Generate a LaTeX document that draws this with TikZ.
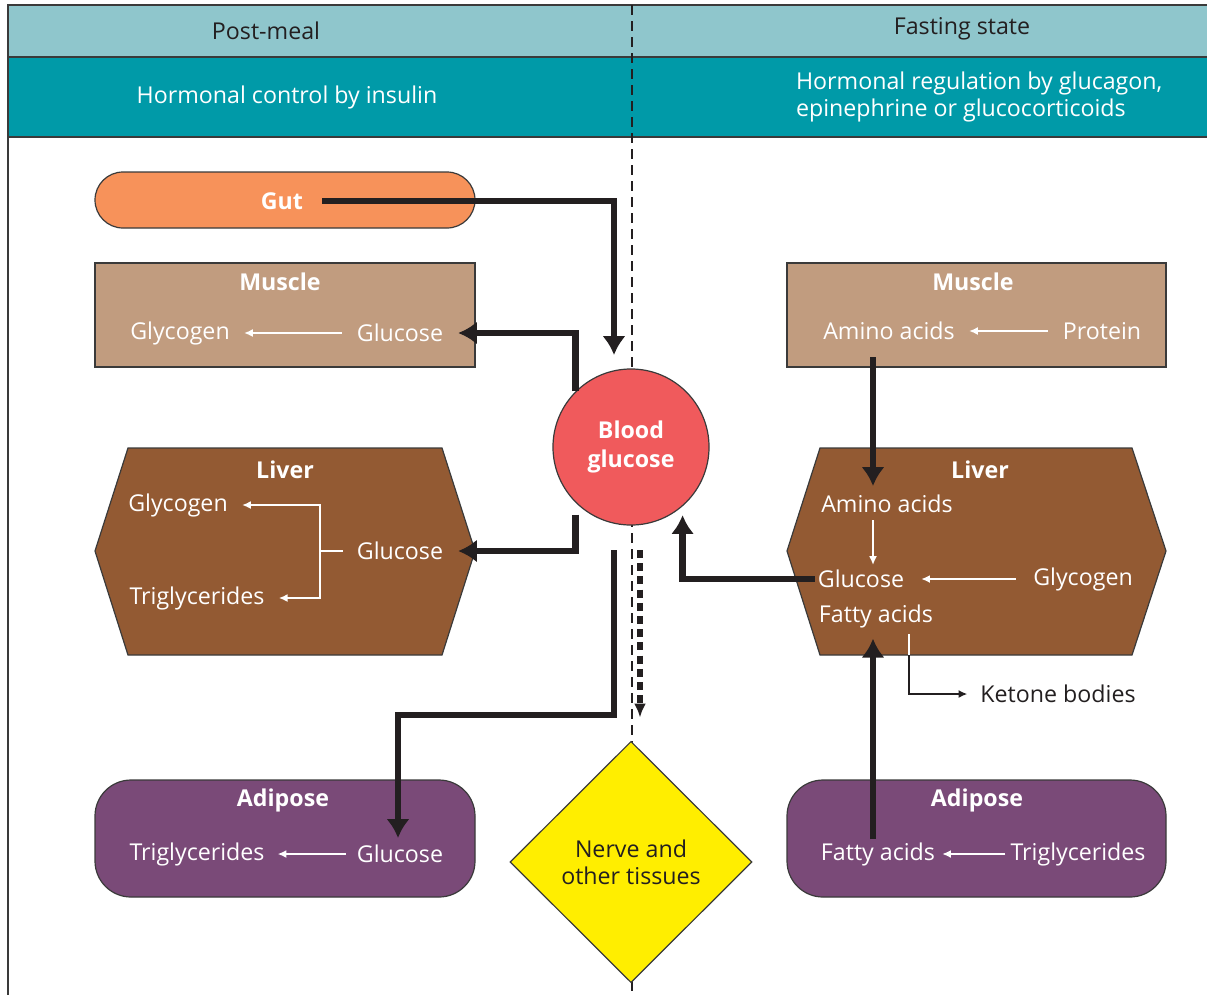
\documentclass[tikz,border=0pt]{standalone}
\usepackage{fontspec}
\setmainfont{Open Sans}
\usetikzlibrary{shapes.geometric,arrows.meta,calc}

\definecolor{headlight}{HTML}{8FC6CC}
\definecolor{headdark}{HTML}{009AA8}
\definecolor{edgegrey}{HTML}{3A3A3A}
\definecolor{inkdark}{HTML}{231F20}
\definecolor{gutorange}{HTML}{F7925A}
\definecolor{muscletan}{HTML}{C19C7F}
\definecolor{liverbrown}{HTML}{935A33}
\definecolor{bloodred}{HTML}{F05A5C}
\definecolor{nerveyellow}{HTML}{FFEE00}
\definecolor{adipurple}{HTML}{7A4A78}

\newcommand{\figfont}{\fontsize{16.5}{19.5}\selectfont}

\tikzset{
  lbl/.style={text=white, font=\figfont, inner sep=2pt},
  ttl/.style={lbl, font=\figfont\bfseries},
  organ/.style={draw=edgegrey, line width=0.03cm},
  bigarrow/.style={draw=inkdark, line width=0.17cm, -{Latex[length=0.47cm,width=0.58cm]}},
  thinarrow/.style={draw=white, line width=0.05cm, shorten <=0.3cm, shorten >=0.28cm, -{Latex[length=0.22cm,width=0.2cm]}},
}

\begin{document}
\begin{tikzpicture}[x=0.025cm, y=-0.025cm]
    % \draw[help lines, step=100] (0,0) grid (1207,995);
    \useasboundingbox (0,0) rectangle (1207,995);

    % header
    \fill[headlight] (8,5) rectangle (1207,57);
    \fill[headdark] (8,57) rectangle (1207,137);
    \draw[edgegrey, line width=0.05cm] (1207,5) -- (8,5) -- (8,995);
    \draw[edgegrey, line width=0.05cm] (8,57) -- (1207,57);
    \draw[edgegrey, line width=0.05cm] (8,137) -- (1207,137);
    \node[lbl, text=inkdark] (postmeal) at (266,31) {Post-meal};
    \node[lbl, text=inkdark] (fasting) at (962,29) {Fasting state};
    \node[lbl] (insulin) at (287,97) {Hormonal control by insulin};
    \node[lbl, anchor=west, align=left] (glucagon) at (793,97) {Hormonal regulation by glucagon,\\epinephrine or glucocorticoids};

    \draw[inkdark, line width=0.035cm, dash pattern=on 0.25cm off 0.15cm] (632,5) -- (632,995);

    % post-meal side
    \draw[organ, fill=gutorange, rounded corners=0.7cm] (95,172) rectangle (475,228);
    \node[ttl] (gut) at (282,201) {Gut};

    \draw[organ, fill=muscletan] (95,263) rectangle (475,367);
    \node[ttl] (muscleL) at (280,282) {Muscle};
    \node[lbl] (mGlyL) at (180,333) {Glycogen};
    \node[lbl] (mGluL) at (400,333) {Glucose};

    \draw[organ, fill=liverbrown] (128,448) -- (442,448) -- (475,551) -- (442,655) -- (128,655) -- (95,551) -- cycle;
    \node[ttl] (liverL) at (285,470) {Liver};
    \node[lbl] (lGlyL) at (178,505) {Glycogen};
    \node[lbl] (lGluL) at (400,551) {Glucose};
    \node[lbl] (lTriL) at (197,598) {Triglycerides};

    \draw[organ, fill=adipurple, rounded corners=0.9cm] (95,780) rectangle (475,897);
    \node[ttl] (adiposeL) at (283,800) {Adipose};
    \node[lbl] (adTriL) at (197,854) {Triglycerides};
    \node[lbl] (adGluL) at (400,854) {Glucose};

    % centre
    \node[circle, organ, fill=bloodred, minimum size=3.9cm, ttl, align=center, font=\fontsize{16.5}{20}\selectfont\bfseries] (blood) at (631,447) {Blood\\glucose};
    \node[diamond, organ, fill=nerveyellow, minimum width=6.05cm, minimum height=6.03cm, inner sep=0pt, align=center, text=inkdark, font=\figfont] (nerve) at (631,862) {Nerve and\\other tissues};

    % fasting side
    \draw[organ, fill=muscletan] (787,263) rectangle (1166,367);
    \node[ttl] (muscleR) at (973,282) {Muscle};
    \node[lbl] (mAmiR) at (889,331) {Amino acids};
    \node[lbl] (mProR) at (1102,331) {Protein};

    \draw[organ, fill=liverbrown] (820,448) -- (1132,448) -- (1166,551) -- (1132,655) -- (820,655) -- (787,551) -- cycle;
    \node[ttl] (liverR) at (980,470) {Liver};
    \node[lbl] (lAmiR) at (887,504) {Amino acids};
    \node[lbl] (lGluR) at (861,579) {Glucose};
    \node[lbl] (lGlyR) at (1083,579) {Glycogen};
    \node[lbl] (lFatR) at (876,616) {Fatty acids};
    \node[lbl, text=inkdark] (ketone) at (1058,694) {Ketone bodies};

    \draw[organ, fill=adipurple, rounded corners=0.9cm] (787,780) rectangle (1166,897);
    \node[ttl] (adiposeR) at (977,800) {Adipose};
    \node[lbl] (adFatR) at (878,854) {Fatty acids};
    \node[lbl] (adTriR) at (1078,854) {Triglycerides};

    % thin arrows inside the organs
    \draw[thinarrow] (mGluL.west) -- (mGlyL.east);
    \coordinate (fork) at (320,551);
    \draw[white, line width=0.05cm, shorten <=0.28cm] (lGluL.west) -- (fork);
    \draw[thinarrow, shorten <=0pt] (fork) |- (lGlyL.east);
    \draw[thinarrow, shorten <=0pt] (fork) |- (lTriL.east);
    \draw[thinarrow, shorten <=0.2cm, shorten >=0.25cm] (adGluL.west) -- (adTriL.east);

    \coordinate (aaTop) at (873,357);
    \draw[thinarrow] (mProR.west) -- (mAmiR.east);
    \draw[thinarrow, shorten <=0.1cm, shorten >=0.05cm] (lAmiR.south -| aaTop) -- (lGluR.north -| aaTop);
    \draw[thinarrow, shorten <=0.35cm, shorten >=0.35cm] (lGlyR.west) -- (lGluR.east);
    \draw[thinarrow, shorten <=0.05cm, shorten >=0.1cm] (adTriR.west) -- (adFatR.east);
    \coordinate (kbTop) at (909,634); \coordinate (kbEdge) at (909,655);
    \draw[white, line width=0.04cm] (kbTop) -- (kbEdge);
    \draw[inkdark, line width=0.04cm, shorten >=0.25cm, -{Latex[length=0.22cm,width=0.2cm]}] (kbEdge) |- (ketone.west);

    % thick arrows to and from blood glucose
    \coordinate (inG) at (614,355);
    \draw[bigarrow, shorten <=0.4cm] (gut.east) -| (inG);
    \draw[bigarrow, shorten >=0.3cm] (blood.135) |- (mGluL.east);
    \draw[bigarrow, shorten <=0.3cm, shorten >=0.3cm] (blood.225) |- (lGluL.east);
    \coordinate (outA) at (614,550); \coordinate (turnA) at (398,715);
    \draw[bigarrow, shorten >=0.1cm] (outA) |- (turnA) -- (turnA |- adGluL.north);
    \coordinate (outB) at (640,550);
    \draw[inkdark, line width=0.14cm, dash pattern=on 0.2cm off 0.13cm, shorten >=0.58cm, -{Latex[length=0.35cm,width=0.3cm]}] (outB) -- (outB |- nerve.north);
    \draw[bigarrow, shorten >=0.22cm] (lGluR.west) -| (blood.-49);
    \draw[bigarrow, shorten >=0.15cm] (aaTop) -- (aaTop |- lAmiR.north);
    \draw[bigarrow, shorten >=0.2cm] (adFatR.north -| aaTop) -- (aaTop |- lFatR.south);
\end{tikzpicture}
\end{document}
